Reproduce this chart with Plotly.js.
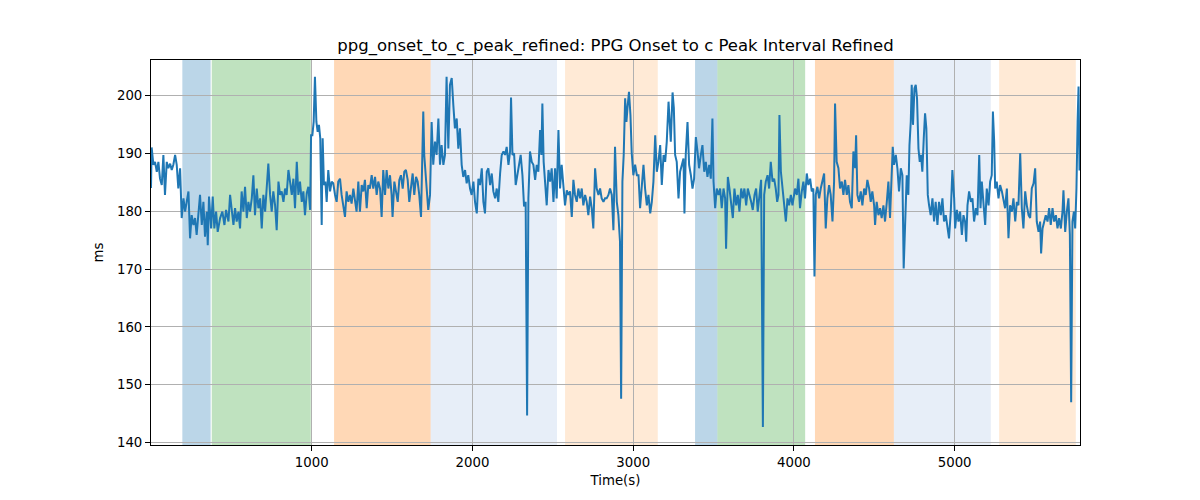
<!DOCTYPE html>
<html>
<head>
<meta charset="utf-8">
<script src="https://cdn.plot.ly/plotly-3.0.1.min.js"></script>
<style>
  html, body { margin: 0; padding: 0; background: #fff; }
  #chart { width: 1200px; height: 500px; }
</style>
</head>
<body>
<div id="chart"></div>
<script>
// Time (s) and interval (ms)
var timeS = [
  0, 4, 15, 25, 36, 46, 56, 67, 77, 87, 98, 108, 119, 129, 139, 150, 160, 170, 181, 191,
  202, 212, 222, 233, 243, 253, 264, 274, 284, 295, 305, 316, 326, 336, 347, 353, 361, 374, 384, 394,
  405, 415, 430, 444, 457, 467, 482, 492, 502, 513, 523, 533, 544, 554, 564, 575, 585, 596, 606, 616,
  627, 637, 647, 658, 668, 679, 689, 699, 710, 720, 730, 741, 751, 761, 772, 782, 793, 803, 813, 824,
  834, 844, 855, 865, 876, 886, 896, 907, 917, 927, 938, 948, 958, 969, 979, 990, 996,
  1004, 1012, 1020, 1029, 1037, 1045, 1053, 1062, 1068, 1076, 1085, 1093, 1103, 1114, 1124, 1134, 1145, 1155, 1165, 1176,
  1186, 1197, 1207, 1217, 1228, 1238, 1248, 1259, 1269, 1279, 1290, 1300, 1311, 1321, 1331, 1342, 1352, 1362, 1373, 1383,
  1394, 1404, 1414, 1425, 1435, 1445, 1456, 1466, 1477, 1487, 1497, 1503, 1514, 1524, 1535, 1545, 1555, 1566, 1576, 1586,
  1597, 1607, 1618, 1628, 1638, 1649, 1659, 1669, 1680, 1688, 1694, 1700, 1709, 1719, 1725, 1736, 1746, 1756, 1767, 1777,
  1788, 1798, 1808, 1819, 1829, 1839, 1850, 1860, 1871, 1881, 1891, 1902, 1912, 1922, 1933, 1943, 1954, 1964, 1974, 1985, 1995,
  2006, 2016, 2027, 2037, 2047, 2058, 2068, 2078, 2089, 2099, 2110, 2120, 2130, 2141, 2151, 2161, 2172, 2182, 2193, 2203,
  2213, 2224, 2234, 2240, 2249, 2259, 2269, 2280, 2290, 2300, 2311, 2321, 2331, 2340, 2348, 2358, 2369, 2379, 2390, 2400,
  2410, 2421, 2429, 2435, 2443, 2452, 2462, 2473, 2483, 2493, 2504, 2514, 2524, 2535, 2545, 2555, 2566, 2576, 2587, 2597,
  2607, 2618, 2628, 2638, 2649, 2659, 2670, 2680, 2690, 2701, 2711, 2721, 2732, 2742, 2752, 2763, 2773, 2784, 2794, 2804,
  2815, 2825, 2835, 2846, 2856, 2867, 2877, 2887, 2898, 2908, 2918, 2925, 2933, 2941, 2950, 2958, 2966, 2974, 2983, 2991, 3001,
  3012, 3023, 3033, 3043, 3054, 3064, 3074, 3085, 3095, 3106, 3116, 3126, 3137, 3147, 3157, 3168, 3178, 3189, 3199, 3209,
  3220, 3226, 3234, 3245, 3253, 3261, 3271, 3282, 3292, 3303, 3313, 3319, 3327, 3338, 3348, 3359, 3369, 3379, 3390, 3400,
  3410, 3421, 3431, 3442, 3452, 3462, 3473, 3483, 3493, 3500, 3510, 3520, 3531, 3541, 3551, 3562, 3572, 3578, 3589, 3599,
  3610, 3620, 3630, 3641, 3651, 3661, 3672, 3682, 3692, 3703, 3713, 3724, 3734, 3744, 3755, 3765, 3775, 3786, 3796, 3807,
  3815, 3825, 3836, 3846, 3856, 3867, 3877, 3887, 3896, 3904, 3910, 3919, 3929, 3939, 3950, 3960, 3970, 3981, 3991,
  4007, 4018, 4028, 4038, 4049, 4059, 4069, 4080, 4090, 4101, 4111, 4121, 4128, 4136, 4146, 4157, 4167, 4177, 4188, 4198,
  4208, 4219, 4229, 4240, 4250, 4256, 4266, 4277, 4287, 4298, 4308, 4318, 4329, 4339, 4349, 4360, 4370, 4381, 4387, 4395,
  4405, 4416, 4426, 4437, 4447, 4457, 4468, 4478, 4488, 4499, 4505, 4515, 4526, 4536, 4546, 4557, 4567, 4578, 4588, 4598,
  4609, 4615, 4623, 4634, 4644, 4654, 4665, 4675, 4683, 4692, 4702, 4712, 4719, 4727, 4733, 4741, 4750, 4758, 4766, 4775,
  4783, 4791, 4799, 4808, 4816, 4824, 4833, 4841, 4851, 4862, 4872, 4882, 4893, 4903, 4914, 4924, 4934, 4945, 4955, 4965,
  4976, 4986, 4997,
  5003, 5014, 5024, 5034, 5045, 5055, 5065, 5072, 5080, 5090, 5101, 5111, 5121, 5132, 5142, 5153, 5161, 5169, 5180, 5190,
  5200, 5211, 5221, 5231, 5238, 5246, 5252, 5262, 5273, 5283, 5294, 5304, 5314, 5325, 5335, 5345, 5356, 5366, 5377, 5387,
  5397, 5408, 5418, 5428, 5439, 5449, 5460, 5470, 5480, 5491, 5501, 5511, 5522, 5532, 5538, 5547, 5557, 5567, 5578, 5588,
  5598, 5609, 5619, 5630, 5640, 5650, 5661, 5671, 5677, 5688, 5698, 5708, 5717, 5725, 5733, 5742, 5750, 5758, 5765, 5771, 5777
];
var intervalMs = [
  184, 191, 188, 188.5, 186.8, 188.5, 185.6, 184.5, 189.7, 182.8, 188.5, 187.4, 188.2, 187.1, 188, 189.7, 188, 183.9, 187.4, 178.8,
  182.2, 179.9, 181.6, 183.4, 175.3, 179.3, 177.6, 178.8, 175.9, 179.3, 182.8, 177.6, 181.6, 175.6, 179.9, 174.1, 182.5, 177, 182.5, 177,
  179.9, 176.4, 178.8, 179.9, 177.6, 180.2, 178.2, 182.8, 179.9, 177.6, 180.5, 178.2, 179.9, 177.0, 183.4, 179.9, 184.2, 178.8, 181.6, 179.9,
  182.2, 186.2, 179.3, 183.9, 180.5, 182.2, 177.0, 182.8, 179.9, 185.1, 188.2, 182.8, 179.9, 183.4, 181.0, 176.7, 185.1, 182.8, 183.4, 181.6,
  183.9, 182.8, 187.1, 185.1, 182.8, 185.6, 180.5, 188.5, 182.8, 185.1, 181.6, 183.4, 179.3, 183.1, 184.2, 180.2, 193.1,
  193.1, 195.4, 203.2, 195.4, 193.7, 194.9, 192.6, 177.6, 192.6, 184.5, 185.1, 181.6, 187.1, 183.4, 185.1, 184.8, 182.8, 181.6, 185.1, 185.6,
  182.8, 180.5, 179.0, 183.4, 181.6, 182.8, 181.3, 183.9, 181.6, 179.9, 185.1, 179.9, 184.5, 183.4, 185.4, 180.5, 184.5, 183.9, 186.2, 183.9,
  185.9, 182.8, 185.1, 183.9, 179.0, 187.1, 182.8, 187.1, 183.9, 186.2, 182.8, 179.0, 185.1, 183.4, 181.6, 185.4, 186.2, 183.9, 186.8, 187.1,
  185.4, 181.6, 184.5, 186.5, 182.8, 185.9, 185.1, 182.8, 179.0, 189.1, 197.2, 189.7, 186.2, 181.6, 180.2, 182.8, 195.4, 188.0, 192.0, 189.7,
  196.0, 188.0, 191.4, 188.0, 189.7, 203.2, 190.8, 201.8, 203.0, 198.3, 194.3, 196.0, 190.8, 194.3, 188.0, 185.9, 187.1, 184.8, 186.2, 183.9, 182.8,
  185.1, 181.6, 179.6, 185.6, 184.5, 187.4, 181.6, 179.6, 186.8, 187.4, 184.5, 186.5, 183.4, 182.2, 183.9, 181.6, 186.5, 189.7, 190.3, 189.7,
  191.1, 188.0, 190.3, 199.6, 189.7, 190.0, 184.5, 186.2, 188.0, 189.7, 186.2, 180.8, 181.6, 144.7, 182.2, 190.3, 188.5, 188.0, 185.4, 188.0,
  186.8, 194.0, 189.7, 198.6, 188.5, 183.9, 181.0, 187.1, 185.1, 187.4, 181.6, 187.4, 182.2, 194.0, 183.9, 188.0, 184.5, 181.0, 183.6, 182.8,
  183.4, 179.0, 185.4, 182.8, 181.6, 183.9, 182.2, 183.9, 181.0, 182.8, 181.6, 179.3, 182.5, 180.5, 177.0, 187.4, 183.9, 182.8, 183.9, 182.2,
  181.6, 182.2, 182.2, 182.8, 183.9, 182.8, 176.7, 191.1, 181.6, 179.3, 174.7, 147.6, 185.1, 189.7, 199.5, 195.4, 198.3, 200.6, 196.6, 190.0, 186.2,
  188.0, 186.2, 186.2, 180.5, 183.9, 188.0, 183.9, 181.0, 182.8, 179.6, 181.6, 185.1, 193.1, 186.8, 188.5, 191.4, 184.5, 189.7, 188.5, 192.0,
  198.9, 195.4, 192.0, 200.5, 197.8, 189.7, 188.5, 182.2, 186.8, 188.0, 189.1, 179.6, 189.7, 195.4, 188.0, 186.2, 183.9, 185.6, 192.8, 190.3,
  187.4, 189.7, 191.4, 186.8, 188.5, 185.9, 188.0, 185.6, 196.0, 185.1, 180.5, 183.9, 182.8, 183.9, 180.5, 183.9, 182.2, 173.5, 185.9, 183.9,
  181.6, 178.8, 183.9, 181.0, 182.8, 179.9, 183.9, 182.2, 183.9, 181.0, 183.9, 182.8, 181.6, 180.2, 182.8, 183.9, 179.9, 182.8, 185.4, 142.7,
  182.8, 185.1, 186.2, 183.9, 188.5, 185.1, 185.6, 183.9, 181.6, 182.8, 196.6, 186.8, 183.9, 181.6, 178.2, 182.2, 181.0, 182.8, 181.0,
  183.9, 182.8, 185.6, 180.5, 183.4, 185.1, 182.2, 186.5, 184.5, 185.6, 183.4, 183.9, 168.7, 182.8, 184.2, 182.2, 183.9, 185.1, 186.5, 177.0,
  182.2, 184.5, 182.8, 178.2, 185.1, 198.6, 188.5, 187.4, 183.9, 185.1, 182.8, 185.4, 182.8, 184.5, 181.6, 180.5, 190.3, 187.4, 193.1, 182.8,
  181.6, 183.4, 181.0, 183.9, 182.8, 185.4, 183.9, 181.6, 183.4, 181.0, 177.6, 181.6, 179.3, 180.5, 178.8, 181.0, 178.2, 181.6, 185.1, 178.8,
  187.4, 191.1, 188.0, 189.7, 187.4, 183.4, 187.4, 186.2, 170.1, 178.2, 186.2, 182.8, 191.4, 195.4, 201.8, 194.9, 201.2, 201.8, 199.5, 190.8,
  188.5, 189.7, 186.8, 192.6, 196.9, 194.3, 182.8, 181.0, 179.3, 182.2, 178.2, 181.6, 177.6, 181.6, 179.3, 182.2, 178.2, 179.3, 177.0, 175.3,
  179.9, 187.1, 182.2,
  177.0, 180.2, 178.2, 179.9, 175.9, 179.3, 178.2, 174.7, 181.0, 183.4, 181.6, 182.2, 178.2, 180.5, 179.3, 189.7, 180.5, 185.1, 180.5, 177.6,
  183.9, 181.0, 185.1, 186.2, 197.2, 192.0, 183.9, 185.1, 182.2, 184.5, 183.4, 181.6, 180.5, 183.9, 175.3, 181.0, 179.9, 182.2, 178.2, 181.6,
  181.0, 190.0, 180.5, 177.0, 183.4, 181.0, 179.3, 178.8, 183.9, 184.8, 187.4, 178.2, 176.4, 178.2, 172.7, 177.0, 178.2, 179.3, 178.2, 180.5,
  177.6, 180.5, 178.2, 179.3, 177.0, 178.8, 177.0, 179.9, 183.6, 176.4, 179.9, 182.2, 175.9, 147.0, 178.2, 179.9, 177.0, 183.9, 195.4, 201.5, 187.0
];

// Shaded phases
var spanStart = [195, 378, 1139, 1740, 2576, 3385, 3524, 4131, 4622, 5277];
var spanEnd = [371, 994, 1740, 2526, 3153, 3524, 4070, 4622, 5225, 5754];
var spanColor = ['#1f77b4', '#2ca02c', '#ff7f0e', '#aec7e8', '#ffbb78',
                 '#1f77b4', '#2ca02c', '#ff7f0e', '#aec7e8', '#ffbb78'];

var xTicks = [1000, 2000, 3000, 4000, 5000];
var yTicks = [140, 150, 160, 170, 180, 190, 200];

var shapes = spanStart.map(function(s, i) {
  return {
    type: 'rect', xref: 'x', yref: 'paper',
    x0: s, x1: spanEnd[i], y0: 0, y1: 1,
    fillcolor: spanColor[i], opacity: 0.3,
    line: { width: 0 }, layer: 'below'
  };
});

var trace = {
  type: 'scatter', mode: 'lines',
  x: timeS, y: intervalMs,
  line: { color: '#1f77b4', width: 2 },
  hoverinfo: 'x+y'
};

var axisCommon = {
  showline: true, mirror: true, linecolor: '#000', linewidth: 1,
  ticks: 'outside', ticklen: 5, tickwidth: 1, tickcolor: '#000',
  showgrid: true, gridcolor: '#b0b0b0', gridwidth: 1,
  zeroline: false,
  tickfont: { family: 'DejaVu Sans', size: 13.3, color: '#000' }
};

var layout = {
  width: 1200, height: 500,
  paper_bgcolor: '#fff', plot_bgcolor: '#fff',
  margin: { l: 151, r: 120, t: 60, b: 55 },
  showlegend: false,
  font: { family: 'DejaVu Sans', color: '#000' },
  title: {
    text: 'ppg_onset_to_c_peak_refined: PPG Onset to c Peak Interval Refined',
    x: 0.5, xref: 'paper', xanchor: 'center',
    y: 0.91, yref: 'container', yanchor: 'middle',
    font: { family: 'DejaVu Sans', size: 16.5, color: '#000' }
  },
  xaxis: Object.assign({}, axisCommon, {
    range: [0, 5780],
    tickvals: xTicks,
    title: { text: 'Time(s)', standoff: 6, font: { family: 'DejaVu Sans', size: 13.3 } }
  }),
  yaxis: Object.assign({}, axisCommon, {
    range: [139.6, 206.1],
    tickvals: yTicks,
    title: { text: 'ms', standoff: 10, font: { family: 'DejaVu Sans', size: 13.3 } }
  }),
  shapes: shapes
};

Plotly.newPlot('chart', [trace], layout, { displayModeBar: false, staticPlot: true });
</script>
</body>
</html>
